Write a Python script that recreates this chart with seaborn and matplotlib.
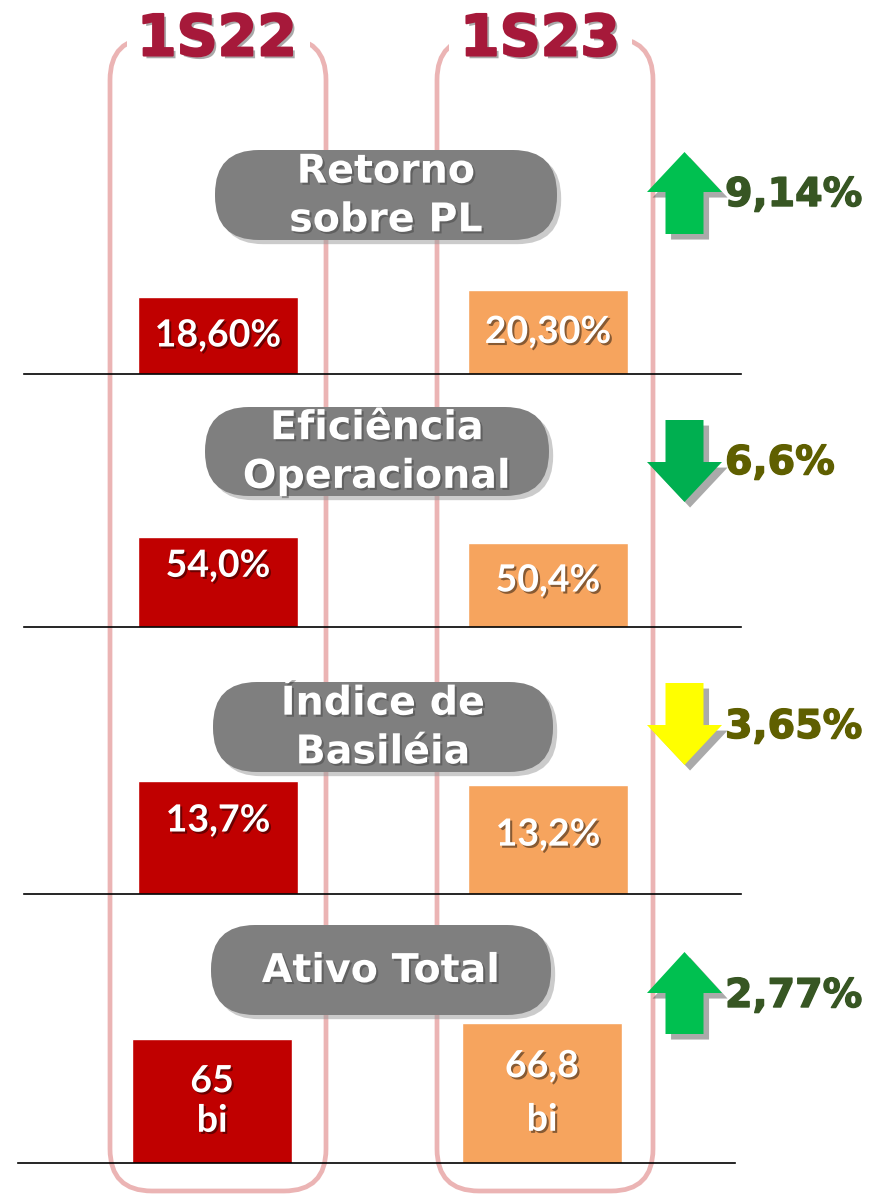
import matplotlib
matplotlib.use("Agg")
import matplotlib.pyplot as plt
import matplotlib.patheffects as pe
from matplotlib.patches import FancyBboxPatch, Polygon, Rectangle
import seaborn as sns
import pandas as pd

# ---------------- data ----------------
periods = ["1S22", "1S23"]
metrics = ["Retorno\nsobre PL", "Eficiência\nOperacional", "Índice de\nBasiléia", "Ativo Total"]
values_1s22 = [18.60, 54.0, 13.7, 65.0]
values_1s23 = [20.30, 50.4, 13.2, 66.8]
labels_1s22 = ["18,60%", "54,0%", "13,7%", "65\nbi"]
labels_1s23 = ["20,30%", "50,4%", "13,2%", "66,8\nbi"]
changes = ["9,14%", "6,6%", "3,65%", "2,77%"]
directions = ["up", "down", "down", "up"]

# ---------------- style ----------------
sns.set_style("white")
plt.rcParams["font.family"] = ["DejaVu Sans"]

RED = "#C00000"
ORANGE = "#F6A45E"
PINK = "#EBB4B4"
HEADER = "#A6193A"
PILL = "#7F7F7F"
arrow_colors = ["#00C050", "#00AF50", "#FFFF00", "#00C050"]
change_colors = ["#375623", "#5F5F00", "#5F5F00", "#375623"]

W, H = 876, 1196
fig = plt.figure(figsize=(W / 100, H / 100), dpi=100)
fig.patch.set_facecolor("white")

# overlay axes in pixel coordinates
ov = fig.add_axes([0, 0, 1, 1], zorder=0)
ov.set_xlim(0, W)
ov.set_ylim(H, 0)
ov.axis("off")

# rounded column frames
frames = [(110, 326, 127, 310), (437, 653, 449, 632)]
for x0, x1, g0, g1 in frames:
    ov.add_patch(FancyBboxPatch((x0, 38), x1 - x0, 1153,
                                boxstyle="round,pad=0,rounding_size=42",
                                fill=False, ec=PINK, lw=3.4, zorder=1))
    ov.add_patch(Rectangle((g0, 20), g1 - g0, 40, fc="white", ec="none", zorder=2))

# period headers
header_x = [217, 540]
for px, name in zip(header_x, periods):
    ov.text(px, 40, name, ha="center", va="center", fontsize=41, fontweight="bold",
            color=HEADER, zorder=5,
            path_effects=[pe.SimplePatchShadow(offset=(2, -2), shadow_rgbFace="#555555", alpha=0.5),
                          pe.withStroke(linewidth=1.5, foreground=HEADER)])

# metric pills
pills = [(215, 150, 342, 90), (205, 407, 344, 89), (213, 682, 340, 90), (211, 925, 340, 90)]
for (px, py, pw, ph), name in zip(pills, metrics):
    ov.add_patch(FancyBboxPatch((px, py), pw, ph,
                                boxstyle="round,pad=0,rounding_size=44",
                                fc=PILL, ec="none", zorder=3,
                                path_effects=[pe.SimplePatchShadow(offset=(3, -3), shadow_rgbFace="#999999", alpha=0.5),
                                              pe.Normal()]))
    ov.text(px + pw / 2, py + ph / 2 + 1, name, ha="center", va="center", fontsize=28.5,
            fontweight="bold", color="white", linespacing=1.28, zorder=4,
            path_effects=[pe.SimplePatchShadow(offset=(1.5, -1.5), shadow_rgbFace="#333333", alpha=0.4),
                          pe.Normal()])

# arrows (tip, head-base, tail) + change text
arrows = [(152, 192, 234), (502, 462, 420), (765, 725, 683), (952, 993, 1034)]
text_y = [195, 463, 727, 996]
cx, shaft, head = 684.5, 19, 37.5
for (tip, base, tail), col, txt, tcol, ty in zip(arrows, arrow_colors, changes, change_colors, text_y):
    pts = [(cx, tip), (cx + head, base), (cx + shaft, base), (cx + shaft, tail),
           (cx - shaft, tail), (cx - shaft, base), (cx - head, base)]
    ov.add_patch(Polygon(pts, closed=True, fc=col, ec="none", zorder=4,
                         path_effects=[pe.SimplePatchShadow(offset=(4, -4), shadow_rgbFace="#444444", alpha=0.45),
                                       pe.Normal()]))
    ov.text(725, ty, txt, ha="left", va="center", fontsize=28.5, fontweight="bold",
            color=tcol, zorder=5,
            path_effects=[pe.withStroke(linewidth=1.0, foreground=tcol)])

# ---------------- bar panels ----------------
baselines = [374, 627, 894, 1163]
tops = [270, 510, 760, 1010]
xspans = [(24, 741), (24, 741), (24, 741), (18, 735)]
ylims = [(0, 25.12), (0, 70.2), (0, 16.24), (51.05, 68.26)]
label_shift = [0.0, 0.18, 0.15, 0.0]

for i in range(4):
    x0, x1 = xspans[i]
    ax = fig.add_axes([x0 / W, 1 - baselines[i] / H, (x1 - x0) / W, (baselines[i] - tops[i]) / H],
                      zorder=2)
    ax.patch.set_alpha(0)
    df = pd.DataFrame({"period": periods, "value": [values_1s22[i], values_1s23[i]]})
    sns.barplot(data=df, x="period", y="value", hue="period", palette=[RED, ORANGE],
                width=0.485, saturation=1, dodge=False, legend=False, ax=ax)
    ax.set_xlim(-0.588, 1.585)
    ax.set_ylim(*ylims[i])
    ax.set(xlabel="", ylabel="", xticks=[], yticks=[])
    for s in ["top", "left", "right"]:
        ax.spines[s].set_visible(False)
    ax.spines["bottom"].set_color("black")
    ax.spines["bottom"].set_linewidth(1.2)
    lo = ylims[i][0]
    for j, (v, lab) in enumerate(zip([values_1s22[i], values_1s23[i]], [labels_1s22[i], labels_1s23[i]])):
        sh = label_shift[i] if j == 0 else label_shift[i] * 0.3
        ymid = lo + (v - lo) * (0.5 + sh)
        ax.text(j, ymid, lab, ha="center", va="center", fontsize=27, fontweight="bold",
                color="white", family=["Lato", "DejaVu Sans"],
                linespacing=1.2 if j == 0 else 1.7, zorder=5,
                path_effects=[pe.SimplePatchShadow(offset=(1.5, -1.5), shadow_rgbFace="#000000", alpha=0.45),
                              pe.Normal()])

fig.savefig("out.png", dpi=100, facecolor="white")
